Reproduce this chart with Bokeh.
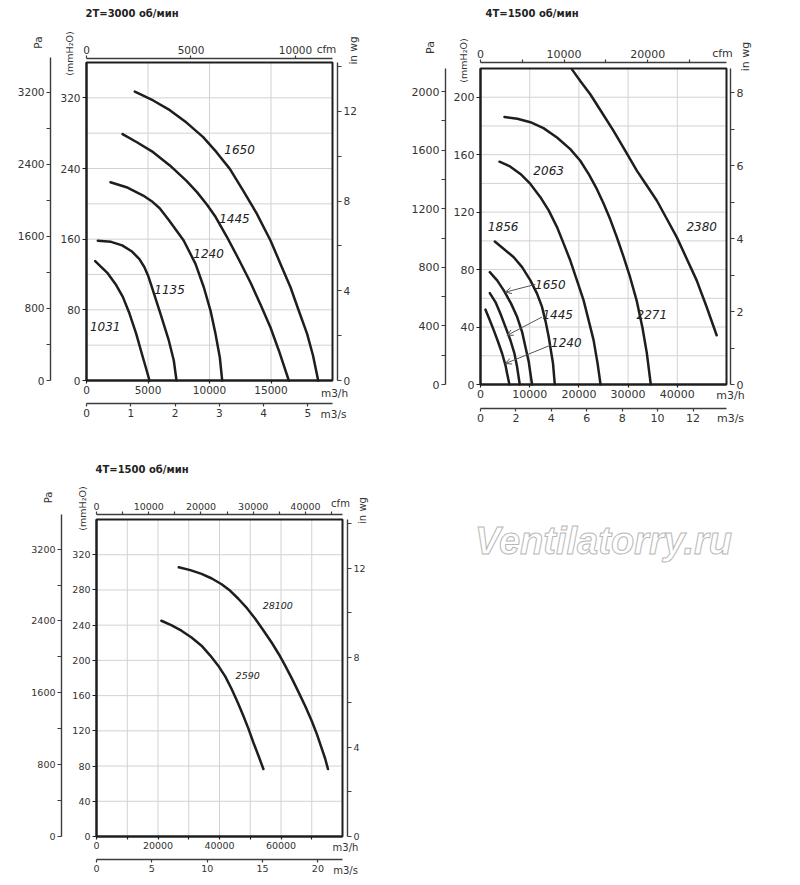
import math
from bokeh.plotting import figure
from bokeh.models import LinearAxis, Range1d, FixedTicker, Label, Arrow, OpenHead
from bokeh.layouts import row, column
from bokeh.embed import file_html
from bokeh.resources import INLINE

FONT = "DejaVu Sans"
MARK_FONT = "Liberation Sans"
INK = "#1e1e1e"
AXC = "#3c3c3c"
GRID = "#d2d2d2"
TXT = "#333333"

PA_PER_MM = 9.80665
MM_PER_INWG = 25.4
M3H_PER_CFM = 1.699
M3H_PER_M3S = 3600.0

# ---------------- panel 1 : 2T = 3000 rpm ----------------
p1_title = "2T=3000 об/мин"
p1_q_1031 = [705, 1734, 2412, 2954, 3496, 4038, 4499, 4851, 5122]
p1_p_1031 = [135.2, 121.2, 108, 94.7, 75.8, 53, 30.3, 13.3, 0]
p1_q_1135 = [921, 2000, 2900, 3700, 4300, 4700, 5000, 5250, 6016, 6691, 7097, 7317]
p1_p_1135 = [158.3, 157, 153, 146, 137.5, 128.5, 119, 108.5, 75.5, 45.3, 22.6, 0]
p1_q_1240 = [1951, 3252, 4607, 5300, 5950, 6720, 7900, 8862, 9537, 10081, 10488, 10837, 11032]
p1_p_1240 = [224.5, 218.8, 209.4, 203, 195, 181.1, 158.5, 132.1, 105.6, 79.2, 52.8, 26.4, 0]
p1_q_1445 = [2930, 4065, 5420, 6775, 8130, 9000, 9800, 10500, 11400, 12385, 13333, 14146, 14959, 15635, 16448]
p1_p_1445 = [279, 270, 258.5, 243.5, 226, 213, 199, 185, 163, 137, 111, 86, 60, 34, 0]
p1_q_1650 = [3930, 5420, 6775, 8130, 9485, 10569, 11653, 12737, 13821, 14959, 15772, 16585, 17260, 17937, 18420, 18837]
p1_p_1650 = [327, 317, 306, 292, 275.5, 258.5, 239.6, 215, 189.5, 158.5, 132, 105.6, 79, 52.8, 28, 0]
p1_labels = ["1031", "1135", "1240", "1445", "1650"]
p1_label_q = [1517, 6750, 9920, 12030, 12440]
p1_label_p = [60.6, 103, 144, 183.7, 262]

# ---------------- panel 2 : 4T = 1500 rpm ----------------
p2_title = "4T=1500 об/мин"
p2_q_1240 = [1014, 1893, 2704, 3583, 4394, 5070, 5408, 5881]
p2_p_1240 = [52.1, 44.7, 37.7, 29.6, 21.6, 13.5, 7.7, 0]
p2_q_1445 = [1893, 3042, 4056, 5070, 6084, 6895, 7436, 7977]
p2_p_1445 = [63.6, 57.4, 49.3, 40.1, 30.8, 21.6, 12.3, 0]
p2_q_1650 = [1893, 3380, 4732, 6219, 7436, 8450, 9126, 9802, 10140, 10478]
p2_p_1650 = [78.2, 72.5, 65.5, 56.3, 47.1, 36.7, 26.3, 15.9, 7.8, 0]
p2_q_1856 = [2907, 6760, 8450, 10140, 11492, 12506, 13250, 13858, 14737, 15100]
p2_p_1856 = [99.5, 88.6, 81.7, 72.5, 63.3, 54.0, 43.6, 33.2, 14.7, 0]
p2_q_2063 = [3853, 6000, 8112, 10140, 12168, 13858, 15548, 16900, 18252, 19604, 20956, 21970, 22984, 23795, 24400]
p2_p_2063 = [155.1, 151.8, 146.6, 139.6, 130.4, 121.2, 109.6, 98.1, 86.3, 72.5, 58.6, 44.8, 30.9, 14.7, 0]
p2_q_2271 = [4867, 7500, 10140, 12800, 15548, 18252, 20280, 22000, 23660, 25012, 26364, 27716, 29068, 30420, 31772, 32921, 33800, 34611]
p2_p_2271 = [186.3, 185, 182.6, 178.5, 172, 163.9, 155.8, 146.5, 136, 126, 115, 102.5, 89, 74.5, 58, 39.5, 22, 0]
p2_q_2380 = [18590, 20280, 22308, 24674, 27040, 29406, 31772, 33800, 35828, 37856, 39884, 41912, 43940, 45968, 47996]
p2_p_2380 = [219.4, 211.3, 202.1, 189.4, 176.6, 162.8, 148.9, 138.5, 128.1, 115.4, 102.6, 87.6, 72.5, 54.0, 34.3]
p2_labels = ["1856", "2063", "2271", "2380"]
p2_label_q = [4600, 13850, 34830, 44960]
p2_label_p = [110, 149, 48.8, 110]
p2_arrow_labels = ["1650", "1445", "1240"]
p2_arrow_label_q = [14196, 15680, 17440]
p2_arrow_label_p = [69.7, 48.8, 29.2]
p2_arrow_from_q = [11154, 12510, 14196]
p2_arrow_from_p = [69.7, 47.0, 27.3]
p2_arrow_to_q = [5070, 5408, 5070]
p2_arrow_to_p = [64.3, 34.2, 14.6]

# ---------------- panel 3 : 4T = 1500 rpm ----------------
p3_title = "4T=1500 об/мин"
p3_q_2590 = [21100, 24300, 27627, 30900, 34152, 37000, 39590, 41900, 43942, 45900, 47748, 49400, 51011, 52700, 54274]
p3_p_2590 = [245, 240, 233.7, 226, 216.7, 205.5, 194, 181.5, 167.5, 152.5, 137.2, 122.5, 106.8, 91.5, 76.6]
p3_q_28100 = [26757, 30500, 34163, 37500, 40688, 43500, 46126, 49000, 51564, 54300, 57003, 59300, 61354, 63600, 65704, 67900, 69900, 71700, 73318, 74400, 75276]
p3_p_28100 = [305.7, 302.5, 298.2, 293, 286.5, 279, 270, 259, 247.5, 234, 220, 207, 194, 179, 164, 148, 132, 116, 99.3, 88, 76.6]
p3_labels = ["28100", "2590"]
p3_label_q = [58950, 49170]
p3_label_p = [262, 183.4]

WATERMARK = "Ventilatorry.ru"


def style(ax, ticks, minor, tick_len, fs, lw=1.4, color=AXC):
    ax.ticker = FixedTicker(ticks=list(ticks), minor_ticks=list(minor))
    ax.axis_line_color = color
    ax.axis_line_width = lw
    ax.major_tick_line_color = color
    ax.minor_tick_line_color = color
    ax.major_tick_line_width = 1.2
    ax.minor_tick_line_width = 1.2
    ax.major_tick_out = tick_len
    ax.major_tick_in = 0
    ax.minor_tick_out = tick_len if minor else 0
    ax.minor_tick_in = 0
    ax.major_label_text_font = FONT
    ax.major_label_text_font_size = fs
    ax.major_label_text_color = TXT
    ax.major_label_standoff = 2


class Panel:
    """A figure whose frame is the whole canvas; the chart box sits inside it."""

    def __init__(self, W, H, origin, box, xmax, ymax, tick_fs, unit_fs, curve_fs):
        ox, oy = origin
        self.bl, self.bt, self.br, self.bb = box
        self.kx = xmax / (self.br - self.bl)
        self.ky = ymax / (self.bb - self.bt)
        self.xmax, self.ymax = xmax, ymax
        self.tick_fs, self.unit_fs, self.curve_fs = tick_fs, unit_fs, curve_fs
        x0 = (ox - self.bl) * self.kx
        x1 = (ox + W - self.bl) * self.kx
        y0 = (self.bb - (oy + H)) * self.ky
        y1 = (self.bb - oy) * self.ky
        p = figure(width=W, height=H, output_backend="svg", toolbar_location=None,
                   x_range=Range1d(x0, x1), y_range=Range1d(y0, y1),
                   x_axis_location=None, y_axis_location=None, min_border=0)
        p.outline_line_color = None
        p.background_fill_color = "white"
        p.border_fill_color = "white"
        p.grid.visible = False
        p.extra_x_ranges = {"cfm": Range1d(x0 / M3H_PER_CFM, x1 / M3H_PER_CFM),
                            "m3s": Range1d(x0 / M3H_PER_M3S, x1 / M3H_PER_M3S)}
        p.extra_y_ranges = {"pa": Range1d(y0 * PA_PER_MM, y1 * PA_PER_MM),
                            "wg": Range1d(y0 / MM_PER_INWG, y1 / MM_PER_INWG)}
        self.p = p

    def at(self, px, py):
        return (px - self.bl) * self.kx, (self.bb - py) * self.ky

    def axis(self, side, rng, loc_px, ticks, minor, bounds, tick_len=4, lw=1.4, color=AXC):
        if side in ("left", "right"):
            loc = self.at(loc_px, 0)[0]
            ax = LinearAxis(y_range_name=rng, fixed_location=loc, bounds=bounds)
        else:
            loc = self.at(0, loc_px)[1]
            ax = LinearAxis(x_range_name=rng, fixed_location=loc, bounds=bounds)
        style(ax, ticks, minor, tick_len, self.tick_fs, lw, color)
        self.p.add_layout(ax, side)

    def text(self, px, py, text, size=None, style_="normal", align="center", angle=0,
             color=TXT):
        x, y = self.at(px, py)
        self.p.add_layout(Label(x=x, y=y, text=text, text_font=FONT,
                                text_font_size=size or self.unit_fs,
                                text_font_style=style_, text_align=align,
                                text_baseline="middle", angle=angle, text_color=color))

    def data_text(self, x, y, text):
        self.p.add_layout(Label(x=x, y=y, text=text, text_font=FONT,
                                text_font_size=self.curve_fs,
                                text_font_style="italic", text_align="center",
                                text_baseline="middle", text_color="#222222"))

    def grid(self, xs, ys):
        self.p.segment(x0=list(xs), y0=[0] * len(xs), x1=list(xs), y1=[self.ymax] * len(xs),
                       line_color=GRID, line_width=1)
        self.p.segment(x0=[0] * len(ys), y0=list(ys), x1=[self.xmax] * len(ys), y1=list(ys),
                       line_color=GRID, line_width=1)
        self.p.quad(left=[0], right=[self.xmax], bottom=[0], top=[self.ymax],
                    fill_color=None, line_color=INK, line_width=2)

    def curve(self, q, pr):
        self.p.line(q, pr, line_width=2.5, line_color=INK, line_join="round", line_cap="round")


def build(panel, title, t_px, pa_px, mm_px, cfm_px, wg_px, m3h_px, m3s_px,
          pa_axis_x, cfm_axis_y, wg_axis_x, m3s_axis_y, pa_top,
          xt, xt_minor, yt, pa_t, pa_minor, cfm_t, cfm_minor, wg_t, wg_minor, m3s_t):
    xmax, ymax = panel.xmax, panel.ymax
    panel.axis("left", "default", panel.bl, yt, [], (0, ymax), 4, 2, INK)
    panel.axis("left", "pa", pa_axis_x, pa_t, pa_minor, (0, pa_top), 4)
    panel.axis("above", "cfm", cfm_axis_y, cfm_t, cfm_minor, (0, xmax / M3H_PER_CFM), 3)
    panel.axis("right", "wg", wg_axis_x, wg_t, wg_minor, (0, ymax / MM_PER_INWG), 4)
    panel.axis("below", "default", panel.bb, xt, xt_minor, (0, xmax), 3, 2, INK)
    panel.axis("below", "m3s", m3s_axis_y, m3s_t, [], (0, xmax / M3H_PER_M3S), 3)
    panel.text(t_px[0], t_px[1], title, size="10px", style_="bold", align="left",
               color="#222222")
    panel.text(pa_px[0], pa_px[1], "Pa", angle=math.pi / 2)
    panel.text(mm_px[0], mm_px[1], "(mmH₂O)", size="9.5px", angle=math.pi / 2)
    panel.text(cfm_px[0], cfm_px[1], "cfm")
    panel.text(wg_px[0], wg_px[1], "in wg", angle=math.pi / 2)
    panel.text(m3h_px[0], m3h_px[1], "m3/h")
    panel.text(m3s_px[0], m3s_px[1], "m3/s")


# ---------- figure 1 ----------
P1 = Panel(400, 438, (0, 0), (86, 62, 332, 380), 20000, 360, "10.5px", "10.5px", "12px")
P1.grid([5000, 10000, 15000], list(range(40, 360, 40)))
for q, pr in [(p1_q_1031, p1_p_1031), (p1_q_1135, p1_p_1135), (p1_q_1240, p1_p_1240),
              (p1_q_1445, p1_p_1445), (p1_q_1650, p1_p_1650)]:
    P1.curve(q, pr)
for lab, q, pr in zip(p1_labels, p1_label_q, p1_label_p):
    P1.data_text(q, pr, lab)
build(P1, p1_title, (85, 13), (37.5, 42), (68.5, 53), (326, 48), (352, 50), (334, 392), (333, 413),
      50, 58, 337, 403, 3590,
      [0, 5000, 10000, 15000], [], [0, 80, 160, 240, 320],
      [0, 800, 1600, 2400, 3200], [400, 1200, 2000, 2800],
      [0, 5000, 10000], [], [0, 4, 8, 12], [2, 6, 10, 14], [0, 1, 2, 3, 4, 5])

# ---------- figure 2 ----------
P2 = Panel(392, 438, (400, 0), (480, 68, 726, 384), 50000, 220, "11px", "11px", "12px")
P2.grid([10000, 20000, 30000, 40000], list(range(20, 220, 20)))
for q, pr in [(p2_q_1240, p2_p_1240), (p2_q_1445, p2_p_1445), (p2_q_1650, p2_p_1650),
              (p2_q_1856, p2_p_1856), (p2_q_2063, p2_p_2063), (p2_q_2271, p2_p_2271),
              (p2_q_2380, p2_p_2380)]:
    P2.curve(q, pr)
for lab, q, pr in zip(p2_labels, p2_label_q, p2_label_p):
    P2.data_text(q, pr, lab)
for lab, q, pr, q0, p0, q1, p1_ in zip(p2_arrow_labels, p2_arrow_label_q, p2_arrow_label_p,
                                      p2_arrow_from_q, p2_arrow_from_p,
                                      p2_arrow_to_q, p2_arrow_to_p):
    P2.data_text(q, pr, lab)
    P2.p.add_layout(Arrow(x_start=q0, y_start=p0, x_end=q1, y_end=p1_, line_color="#555555",
                          line_width=1, end=OpenHead(size=6, line_color="#555555", line_width=1)))
build(P2, p2_title, (485, 13), (430, 47), (463, 60), (722, 53), (745, 56), (730, 395), (730, 418),
      445, 62, 730, 408, 220 * PA_PER_MM,
      [0, 10000, 20000, 30000, 40000], [], [0, 40, 80, 120, 160, 200],
      [0, 400, 800, 1200, 1600, 2000], [200, 600, 1000, 1400, 1800],
      [0, 10000, 20000], [5000, 15000, 25000], [0, 2, 4, 6, 8], [1, 3, 5, 7],
      [0, 2, 4, 6, 8, 10, 12])

# ---------- figure 3 ----------
P3 = Panel(400, 439, (0, 438), (96, 519, 342, 836), 80000, 360, "9.5px", "10px", "9.5px")
P3.grid(list(range(10000, 80000, 10000)), list(range(40, 360, 40)))
for q, pr in [(p3_q_2590, p3_p_2590), (p3_q_28100, p3_p_28100)]:
    P3.curve(q, pr)
for lab, q, pr in zip(p3_labels, p3_label_q, p3_label_p):
    P3.data_text(q, pr, lab)
build(P3, p3_title, (95, 469), (48, 497), (81.5, 508), (340, 503), (362, 510), (345, 847), (345, 870),
      61, 514, 347, 859, 3590,
      [0, 20000, 40000, 60000], [10000, 30000, 50000, 70000], list(range(0, 360, 40)),
      [0, 800, 1600, 2400, 3200], [400, 1200, 2000, 2800],
      [0, 10000, 20000, 30000, 40000], [5000, 15000, 25000, 35000, 45000],
      [0, 4, 8, 12], [2, 6, 10, 14], [0, 5, 10, 15, 20])

# ---------- figure 4 : watermark ----------
f4 = figure(width=392, height=439, output_backend="svg", toolbar_location=None,
            x_range=Range1d(0, 392), y_range=Range1d(0, 439),
            x_axis_location=None, y_axis_location=None, min_border=0)
f4.grid.visible = False
f4.outline_line_color = None
f4.add_layout(Label(x=203, y=337, text=WATERMARK, text_font=MARK_FONT, text_font_size="38px",
                    text_font_style="bold italic", text_color="white",
                    text_outline_color="#b8b8b8", text_align="center", text_baseline="middle"))

layout = column(row(P1.p, P2.p), row(P3.p, f4))
open("out.html", "w").write(file_html(layout, INLINE))
